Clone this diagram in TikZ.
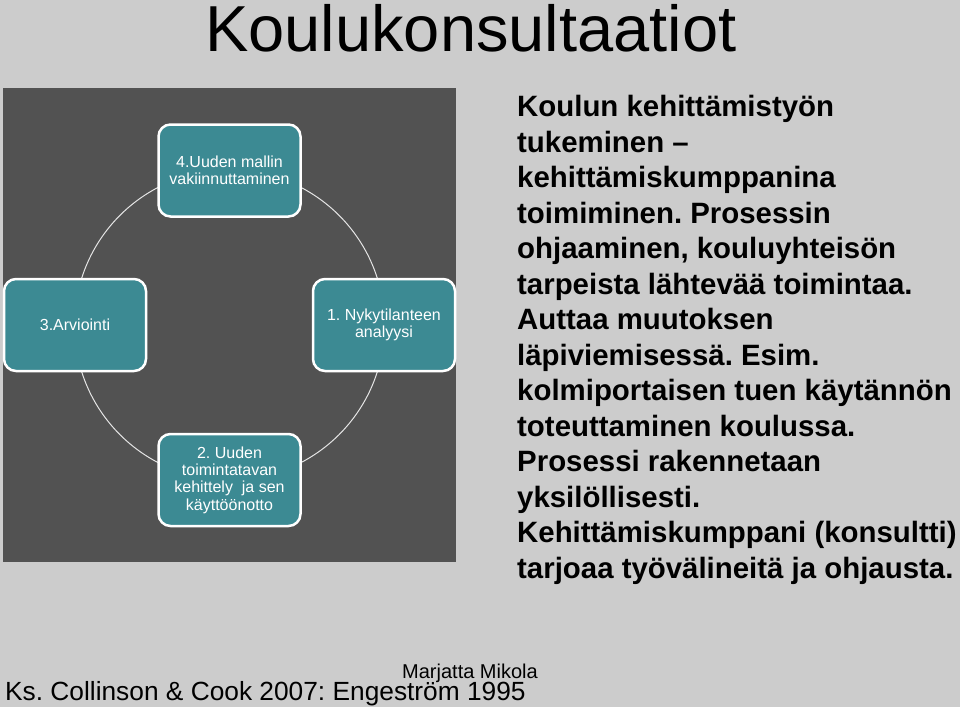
\documentclass[tikz,border=0pt]{standalone}
\usepackage{fontspec}
\setmainfont{Liberation Sans}
\frenchspacing
\definecolor{slidebg}{HTML}{CCCCCC}
\definecolor{panel}{HTML}{525252}
\definecolor{stagefill}{HTML}{3C8A93}

\begin{document}
\begin{tikzpicture}[
        x=1pt, y=-1pt,
        stage/.style={draw=white, line width=2.5pt, fill=stagefill,
            rounded corners=12pt, minimum width=142pt, minimum height=92pt,
            align=center, text=white, font=\fontsize{16}{17.3}\selectfont},
        bodyline/.style={anchor=base west, inner sep=0pt,
            font=\fontsize{29.4}{35.5}\selectfont\bfseries},
        ]
        \fill[slidebg] (0,0) rectangle (960,707);
        \useasboundingbox (0,0) rectangle (960,707);

        \node[anchor=base west, inner sep=0pt, font=\fontsize{65}{78}\selectfont] (title) at (205,51) {Koulukonsultaatiot};

        % cycle panel
        \fill[panel] (3,88) rectangle (456,562);
        \coordinate (c) at (229.5,325);
        \draw[line width=1pt, white!80!gray] (c) circle[radius=155pt];

        \node[stage] (s1) at (384,325) {1. Nykytilanteen\\analyysi};
        \node[stage] (s2) at (229.5,480) {2. Uuden\\toimintatavan\\kehittely\ \ ja sen\\käyttöönotto};
        \node[stage] (s3) at (75,325) {3.Arviointi};
        \node[stage] (s4) at (229.5,170.5) {4.Uuden mallin\\vakiinnuttaminen};

        \foreach \txt [count=\i] in {
            {Koulun kehittämistyön},
            {tukeminen –},
            {kehittämiskumppanina},
            {toimiminen. Prosessin},
            {ohjaaminen, kouluyhteisön},
            {tarpeista lähtevää toimintaa.},
            {Auttaa muutoksen},
            {läpiviemisessä. Esim.},
            {kolmiportaisen tuen käytännön},
            {toteuttaminen koulussa.},
            {Prosessi rakennetaan},
            {yksilöllisesti.},
            {Kehittämiskumppani (konsultti)},
            {tarjoaa työvälineitä ja ohjausta.}
        }
        {
            \node[bodyline] (t\i) at (517,81.2+35.5*\i) {\txt};
        }

        \node[anchor=base west, inner sep=0pt, font=\fontsize{20}{24}\selectfont] (author) at (402,678) {Marjatta Mikola};
        \node[anchor=base west, inner sep=0pt, font=\fontsize{26.3}{30}\selectfont] (source) at (5,700) {Ks. Collinson \& Cook 2007: Engeström 1995};

    \end{tikzpicture}
\end{document}
